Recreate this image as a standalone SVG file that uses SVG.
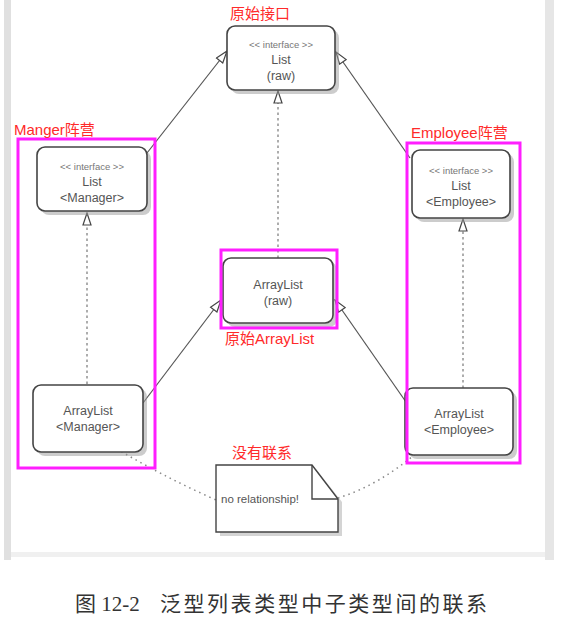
<svg xmlns="http://www.w3.org/2000/svg" width="563" height="631" viewBox="0 0 563 631">
<style>
.box{fill:#fff;stroke:#444;stroke-width:1.6}
.shadow{fill:#999;opacity:0.5}
.t{font-family:"Liberation Sans",Arial,sans-serif;fill:#555;text-anchor:middle}
.st{font-size:9.5px;fill:#777}
.m{font-size:12.5px}
.red{font-family:"Liberation Sans","Noto Sans CJK SC",sans-serif;font-size:15px;fill:#ff2a2a}
.grp{fill:none;stroke:#ff1eff;stroke-width:3}
.solid{stroke:#555;stroke-width:1.2;fill:none}
.dash{stroke:#777;stroke-width:1.2;fill:none;stroke-dasharray:2.5 3}
.dot{stroke:#888;stroke-width:1.5;fill:none;stroke-dasharray:1.5 4}
.cap{font-family:"Liberation Serif","Noto Sans CJK SC",serif;font-size:21px;fill:#333}
</style>
<defs>
<marker id="tri" viewBox="0 0 14 10" refX="13" refY="5" markerWidth="14" markerHeight="10" markerUnits="userSpaceOnUse" orient="auto">
<path d="M1,1 L13,5 L1,9 Z" fill="#fff" stroke="#444" stroke-width="1.2"/>
</marker>
</defs>
<rect width="563" height="631" fill="#fff"/>
<rect x="4" y="0" width="7" height="560" fill="#e0e0e0"/>
<rect x="545" y="0" width="9" height="560" fill="#e6e6e6"/>
<rect x="11" y="552" width="534" height="5" fill="#f0f0f0"/>

<g id="connectors">
<line class="solid" x1="147" y1="153" x2="227" y2="51" marker-end="url(#tri)"/>
<line class="solid" x1="410" y1="158" x2="336" y2="52" marker-end="url(#tri)"/>
<line class="dash" x1="278" y1="258" x2="278" y2="91" marker-end="url(#tri)"/>
<line class="dash" x1="87" y1="384" x2="87" y2="213" marker-end="url(#tri)"/>
<line class="dash" x1="463" y1="388" x2="463" y2="219" marker-end="url(#tri)"/>
<line class="solid" x1="143" y1="403" x2="221" y2="300" marker-end="url(#tri)"/>
<line class="solid" x1="406" y1="402" x2="335" y2="300" marker-end="url(#tri)"/>
<path class="dot" d="M112,446 Q160,475 216,500"/>
<path class="dot" d="M338,498 Q380,485 420,450"/>
</g>

<g id="list-raw">
<rect class="shadow" x="231" y="30" width="108" height="64" rx="8"/>
<rect class="box" x="227" y="26" width="108" height="64" rx="8"/>
<text class="t st" x="281" y="48">&lt;&lt; interface &gt;&gt;</text>
<text class="t m" x="281" y="64">List</text>
<text class="t m" x="281" y="80">(raw)</text>
</g>

<g id="list-manager">
<rect class="shadow" x="41" y="151" width="110" height="64" rx="8"/>
<rect class="box" x="37" y="147" width="110" height="64" rx="8"/>
<text class="t st" x="92" y="170">&lt;&lt; interface &gt;&gt;</text>
<text class="t m" x="92" y="186">List</text>
<text class="t m" x="92" y="202">&lt;Manager&gt;</text>
</g>

<g id="list-employee">
<rect class="shadow" x="416" y="154" width="98" height="68" rx="8"/>
<rect class="box" x="412" y="150" width="98" height="68" rx="8"/>
<text class="t st" x="461" y="174">&lt;&lt; interface &gt;&gt;</text>
<text class="t m" x="461" y="190">List</text>
<text class="t m" x="461" y="206">&lt;Employee&gt;</text>
</g>

<g id="arraylist-raw">
<rect class="shadow" x="227" y="262" width="110" height="65" rx="8"/>
<rect class="box" x="223" y="258" width="110" height="65" rx="8"/>
<text class="t m" x="278" y="289">ArrayList</text>
<text class="t m" x="278" y="305">(raw)</text>
</g>

<g id="arraylist-manager">
<rect class="shadow" x="37" y="389" width="110" height="67" rx="8"/>
<rect class="box" x="33" y="385" width="110" height="67" rx="8"/>
<text class="t m" x="88" y="415">ArrayList</text>
<text class="t m" x="88" y="431">&lt;Manager&gt;</text>
</g>

<g id="arraylist-employee">
<rect class="shadow" x="409" y="392" width="108" height="67" rx="8"/>
<rect class="box" x="405" y="388" width="108" height="67" rx="8"/>
<text class="t m" x="459" y="418">ArrayList</text>
<text class="t m" x="459" y="434">&lt;Employee&gt;</text>
</g>

<g id="note">
<path d="M220,469 L316,469 L342,502 L342,536 L220,536 Z" fill="#aaa" opacity="0.5"/>
<path d="M216,465 L312,465 L338,499 L338,532 L216,532 Z" fill="#fff" stroke="#444" stroke-width="1.4"/>
<path d="M312,465 L312,499 L338,499" fill="none" stroke="#444" stroke-width="1.4"/>
<text class="t" x="221" y="503" style="font-size:11.5px;text-anchor:start">no relationship!</text>
</g>

<g id="groups">
<rect class="grp" x="18" y="139" width="137" height="329"/>
<rect class="grp" x="407" y="143" width="113" height="320"/>
<rect class="grp" x="221" y="250" width="116" height="78"/>
</g>

<g id="labels">
<text class="red" x="230" y="19">原始接口</text>
<text class="red" x="14" y="135">Manger阵营</text>
<text class="red" x="411" y="138">Employee阵营</text>
<text class="red" x="225" y="344">原始ArrayList</text>
<text class="red" x="232" y="458">没有联系</text>
</g>

<text class="cap" x="75" y="611">图 12-2</text>
<text class="cap" x="160" y="611" textLength="327" lengthAdjust="spacing">泛型列表类型中子类型间的联系</text>
</svg>
